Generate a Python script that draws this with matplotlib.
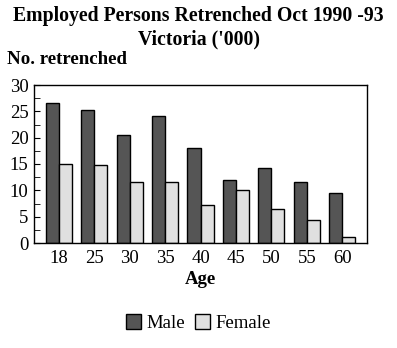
import matplotlib.pyplot as plt
import numpy as np
from matplotlib.patches import Patch
from matplotlib.ticker import MultipleLocator

ages = ['18', '25', '30', '35', '40', '45', '50', '55', '60']
male = [26.6, 25.3, 20.5, 24.1, 18.0, 12.0, 14.2, 11.6, 9.5]
female = [15.0, 14.8, 11.6, 11.6, 7.2, 10.1, 6.4, 4.4, 1.1]

plt.rcParams['font.family'] = ['Liberation Serif', 'DejaVu Serif']

fig = plt.figure(figsize=(3.97, 3.48), dpi=100)
ax = fig.add_axes([34/397, 1-243/348, 333/397, 158/348])

x = np.arange(len(ages))
w = 0.37
ax.bar(x - w/2, male, w, color='#555555', edgecolor='black', linewidth=1)
ax.bar(x + w/2, female, w, color='#e0e0e0', edgecolor='black', linewidth=1)

ax.set_xlim(-0.7, 8.7)
ax.set_ylim(0, 30)
ax.set_xticks(x)
ax.set_xticklabels(ages, fontsize=13.5)
ax.tick_params(axis='x', length=0, pad=5)
ax.yaxis.set_major_locator(MultipleLocator(5))
ax.yaxis.set_minor_locator(MultipleLocator(2.5))
ax.tick_params(axis='y', which='both', direction='in', length=4, labelsize=13.5, pad=4)
for s in ax.spines.values():
    s.set_linewidth(1)
ax.set_xlabel('Age', fontsize=13.5, fontweight='bold', labelpad=3)

fig.text(0.5, 1-16/348, 'Employed Persons Retrenched Oct 1990 -93', ha='center', va='center',
         fontsize=14.2, fontweight='bold')
fig.text(0.5, 1-39/348, "Victoria ('000)", ha='center', va='center', fontsize=14.2, fontweight='bold')
fig.text(7/397, 1-60/348, 'No. retrenched', ha='left', va='center', fontsize=13.6, fontweight='bold')

handles = [Patch(facecolor='#555555', edgecolor='black', label='Male'),
           Patch(facecolor='#e0e0e0', edgecolor='black', label='Female')]
fig.legend(handles=handles, loc='center', bbox_to_anchor=(0.5, 1-323/348), ncol=2,
           frameon=False, fontsize=13.5, handlelength=0.8, handleheight=0.8,
           handletextpad=0.3, columnspacing=0.5)

fig.savefig('out.png', dpi=100)
